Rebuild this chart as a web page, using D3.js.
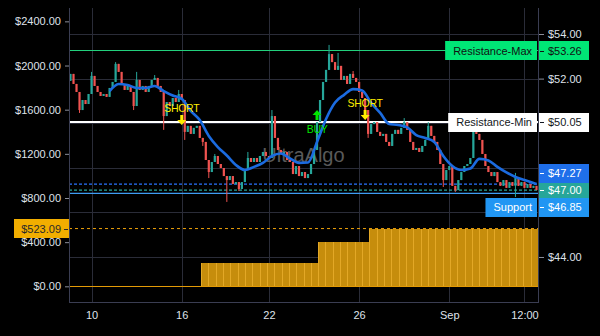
<!DOCTYPE html>
<html>
<head>
<meta charset="utf-8">
<script src="https://cdn.jsdelivr.net/npm/d3@7"></script>
<style>
  html, body { margin: 0; padding: 0; background: #000; }
  svg { display: block; font-family: "Liberation Sans", Arial, sans-serif; }
</style>
</head>
<body>
<svg id="chart" width="600" height="336"></svg>
<script>
// ---- price data (closing prices, one per bar) ----
const firstOpen = 51.90;
const closes = [
  52.21, 51.76, 51.40, 50.59, 51.04, 50.86, 51.31, 52.12, 51.67, 51.40,
  51.22, 51.31, 51.18, 51.58, 51.85, 52.66, 52.30, 51.76, 51.49, 51.67,
  51.40, 50.77, 51.94, 51.49, 51.67, 51.40, 51.67, 51.94, 52.03, 51.67,
  51.40, 50.32, 50.95, 50.77, 51.13, 50.95, 51.31, 51.04, 49.61, 49.88,
  49.52, 49.79, 49.88, 49.34, 49.16, 48.35, 47.81, 48.26, 48.53, 48.17,
  47.99, 47.63, 47.45, 47.63, 47.27, 47.36, 47.05, 47.36, 47.90, 48.44,
  48.26, 48.44, 48.26, 48.53, 48.71, 48.53, 48.44, 50.32, 49.34, 48.80,
  48.62, 48.71, 48.35, 48.26, 47.72, 48.08, 47.63, 47.81, 47.54, 47.72,
  48.17, 48.80, 50.05, 51.04, 51.85, 52.39, 53.10, 52.74, 52.39, 52.57,
  51.94, 52.12, 51.76, 52.21, 52.03, 51.85, 51.40, 51.13, 50.59, 49.52,
  49.96, 50.05, 49.61, 49.43, 49.52, 49.16, 48.98, 49.52, 49.70, 49.52,
  49.79, 50.05, 49.70, 49.16, 48.80, 48.89, 48.71, 48.98, 49.25, 49.88,
  49.43, 49.16, 48.80, 48.17, 47.45, 47.90, 48.08, 47.19, 47.00, 47.45,
  47.81, 48.08, 48.17, 48.44, 49.88, 49.52, 49.25, 48.62, 48.08, 47.81,
  47.63, 47.81, 47.36, 47.19, 47.45, 47.10, 47.36, 47.19, 47.54, 47.19,
  47.36, 47.10, 47.27, 47.10, 47.19, 47.00
];
// wick extremes for bars whose high / low reach past the body  [bar, price]
const wickHighs = [
  [7, 52.30], [15, 52.74], [22, 52.30], [28, 52.16], [36, 51.49], [48, 48.62],
  [59, 48.71], [67, 50.59], [86, 53.51], [89, 53.15], [94, 52.34], [111, 50.23],
  [119, 50.05], [134, 50.05], [148, 47.77]
];
const wickLows = [
  [3, 50.46], [21, 50.59], [31, 49.70], [38, 49.25], [44, 48.98], [46, 47.54],
  [52, 46.47], [56, 46.96], [99, 49.34], [124, 47.14], [128, 46.92], [148, 46.69]
];

// ---- moving average (bar index -> value) ----
const maIndex = d3.range(13, 155, 3).concat([155]);
const maValues = [
  51.44, 51.76, 51.71, 51.58, 51.58, 51.67, 51.44, 51.24, 51.09, 50.55,
  50.14, 49.43, 48.93, 48.55, 48.13, 47.90, 48.04, 48.22, 48.53, 48.64,
  48.42, 48.22, 48.24, 49.16, 50.19, 50.93, 51.27, 51.53, 51.47, 50.91,
  50.46, 49.96, 49.92, 49.81, 49.47, 49.34, 49.16, 48.53, 48.08, 47.90,
  47.97, 48.40, 48.33, 48.04, 47.79, 47.59, 47.45, 47.32, 47.27
];

// ---- cumulative result histogram (left scale): [bar count, value] runs ----
const equityRuns = [[18, 0], [16, 210], [7, 400], [23, 523.09]];

// ---- levels ----
const levelNames = ["Resistance-Max", "Resistance-Min", "Support"];
const levelPrices = [53.26, 50.05, 46.85];

// ---- trade signals ----
const signalTypes = ["SHORT", "BUY", "SHORT"];
const signalBars = [37, 82, 98];
const signalPrices = [49.92, 50.59, 50.14];

// ---- axis ticks ----
const priceTicks = [44, 46, 48, 50, 52, 54];
const equityTicks = [0, 400, 800, 1200, 1600, 2000, 2400];
const timeTickBars = [7, 37, 66, 96, 126, 151];
const timeTickLabels = ["10", "16", "22", "26", "Sep", "12:00"];

// ================= drawing =================
const W = 600, H = 336;
const plot = { left: 69, right: 538, top: 8, bottom: 302 };
const N = closes.length;
const FONT = '"Liberation Sans", Arial, sans-serif';

const svg = d3.select("#chart");
svg.append("rect").attr("width", W).attr("height", H).attr("fill", "#000");

const x = d3.scaleLinear().domain([-0.5, N - 0.5]).range([plot.left, plot.right]);
const y = d3.scaleLinear().domain([41.982, 55.166]).range([plot.bottom, plot.top]);
const yEq = d3.scaleLinear().domain([-142, 2521]).range([plot.bottom, plot.top]);

const money = v => "$" + d3.format(".2f")(v);

// grid
const grid = svg.append("g").attr("shape-rendering", "crispEdges");
grid.selectAll(".gx").data(timeTickBars).join("line")
  .attr("x1", d => Math.round(x(d)) + 0.5).attr("x2", d => Math.round(x(d)) + 0.5)
  .attr("y1", plot.top).attr("y2", plot.bottom)
  .attr("stroke", "#2a2c38");
grid.selectAll(".gy").data(priceTicks).join("line")
  .attr("x1", plot.left).attr("x2", plot.right)
  .attr("y1", d => Math.round(y(d)) + 0.5).attr("y2", d => Math.round(y(d)) + 0.5)
  .attr("stroke", "#2a2c38");

// watermark
svg.append("text")
  .attr("x", (plot.left + plot.right) / 2).attr("y", (plot.top + plot.bottom) / 2 + 7)
  .attr("text-anchor", "middle").attr("font-size", 20)
  .attr("fill", "#5a5a5a").text("UltraAlgo");

// cumulative histogram
const equity = [];
equityRuns.forEach(([n, v]) => { for (let k = 0; k < n; k++) equity.push(v); });
const xb = d3.scaleLinear().domain([0, equity.length]).range([plot.left, plot.right]);
const eqG = svg.append("g").attr("shape-rendering", "crispEdges");
eqG.append("line")
  .attr("x1", plot.left).attr("x2", plot.right)
  .attr("y1", Math.round(yEq(0)) + 0.5).attr("y2", Math.round(yEq(0)) + 0.5)
  .attr("stroke", "#e39a06");
const eqBars = equity.map((v, i) => ({ v, i })).filter(d => d.v > 0);
eqG.selectAll("rect").data(eqBars).join("rect")
  .attr("x", d => xb(d.i)).attr("width", xb(1) - xb(0))
  .attr("y", d => yEq(d.v)).attr("height", d => yEq(0) - yEq(d.v))
  .attr("fill", "#c68d0c");
eqG.selectAll(".stripe").data(eqBars).join("line")
  .attr("x1", d => Math.round(xb(d.i)) + 0.5).attr("x2", d => Math.round(xb(d.i)) + 0.5)
  .attr("y1", d => yEq(d.v)).attr("y2", yEq(0))
  .attr("stroke", "#e3a826").attr("stroke-width", 1);
const lastEq = equity[equity.length - 1];
svg.append("line")
  .attr("x1", plot.left).attr("x2", plot.right)
  .attr("y1", yEq(lastEq)).attr("y2", yEq(lastEq))
  .attr("stroke", "#f0a30a").attr("stroke-dasharray", "3,3");

// level lines
const lastClose = closes[N - 1];
const lastMa = maValues[maValues.length - 1];
const levelStyle = {
  "Resistance-Max": { line: "#22d07c", width: 1, box: "#00e676", text: "#111" },
  "Resistance-Min": { line: "#ffffff", width: 2, box: "#ffffff", text: "#131722" },
  "Support":        { line: "#3f9df2", width: 1.3, box: "#2196f3", text: "#fff" }
};
levelNames.forEach((name, i) => {
  const s = levelStyle[name];
  svg.append("line")
    .attr("x1", plot.left).attr("x2", plot.right)
    .attr("y1", y(levelPrices[i])).attr("y2", y(levelPrices[i]))
    .attr("stroke", s.line).attr("stroke-width", s.width);
});
svg.append("line")
  .attr("x1", plot.left).attr("x2", plot.right)
  .attr("y1", y(lastMa)).attr("y2", y(lastMa))
  .attr("stroke", "#2a73ff").attr("stroke-width", 1.2).attr("stroke-dasharray", "3,2");
svg.append("line")
  .attr("x1", plot.left).attr("x2", plot.right)
  .attr("y1", y(lastClose)).attr("y2", y(lastClose))
  .attr("stroke", "#26a69a").attr("stroke-width", 1.2).attr("stroke-dasharray", "3,2");

// candles
const highMap = new Map(wickHighs), lowMap = new Map(wickLows);
const bars = closes.map((c, i) => {
  const o = i === 0 ? firstOpen : closes[i - 1];
  const hi = Math.max(o, c, highMap.get(i) ?? -Infinity);
  const lo = Math.min(o, c, lowMap.get(i) ?? Infinity);
  return { i, o, c, hi, lo, up: c >= o };
});
const candleG = svg.append("g");
const bodyW = 2.2;
candleG.selectAll(".wick").data(bars).join("line")
  .attr("x1", d => x(d.i)).attr("x2", d => x(d.i))
  .attr("y1", d => y(d.hi)).attr("y2", d => y(d.lo))
  .attr("stroke", d => d.up ? "#26a69a" : "#ef5350").attr("stroke-width", 1);
candleG.selectAll(".body").data(bars).join("rect")
  .attr("x", d => x(d.i) - bodyW / 2).attr("width", bodyW)
  .attr("y", d => y(Math.max(d.o, d.c)))
  .attr("height", d => Math.max(1, Math.abs(y(d.o) - y(d.c))))
  .attr("fill", d => d.up ? "#26a69a" : "#ef5350");

// moving average
svg.append("path")
  .datum(maIndex.map((b, k) => [b, maValues[k]]))
  .attr("d", d3.line().x(d => x(d[0])).y(d => y(d[1])).curve(d3.curveMonotoneX))
  .attr("fill", "none").attr("stroke", "#1b6be0").attr("stroke-width", 2.6)
  .attr("stroke-linejoin", "round");

// signals
signalTypes.forEach((t, k) => {
  const cx = x(signalBars[k]), ty = y(signalPrices[k]);
  const isBuy = t === "BUY";
  const col = isBuy ? "#00e600" : "#ffee00";
  const dir = isBuy ? 1 : -1; // +1: arrow body below tip, -1: above tip
  const pts = [[0, 0], [-4.5, 5], [-1.5, 5], [-1.5, 10], [1.5, 10], [1.5, 5], [4.5, 5]]
    .map(([px, py]) => [cx + px, ty + dir * py]);
  svg.append("path").attr("d", "M" + pts.join("L") + "Z").attr("fill", col);
  svg.append("text")
    .attr("x", cx).attr("y", isBuy ? ty + 23 : ty - 13)
    .attr("text-anchor", "middle").attr("font-size", 10.5)
    .attr("letter-spacing", -0.3)
    .attr("fill", col).text(t);
});

// axes lines
const axG = svg.append("g").attr("shape-rendering", "crispEdges");
axG.append("line").attr("x1", plot.left + 0.5).attr("x2", plot.left + 0.5)
  .attr("y1", plot.top).attr("y2", plot.bottom + 0.5).attr("stroke", "#3a3d52");
axG.append("line").attr("x1", plot.right + 0.5).attr("x2", plot.right + 0.5)
  .attr("y1", plot.top).attr("y2", plot.bottom + 0.5).attr("stroke", "#3a3d52");
axG.append("line").attr("x1", plot.left).attr("x2", plot.right + 1)
  .attr("y1", plot.bottom + 0.5).attr("y2", plot.bottom + 0.5).attr("stroke", "#3a3d52");

const axisText = "#dfe2ea";

// right-side value tags, spread apart around the last price tag
const tags = [
  { price: levelPrices[0], name: levelNames[0], ...levelStyle[levelNames[0]] },
  { price: levelPrices[1], name: levelNames[1], ...levelStyle[levelNames[1]] },
  { price: lastMa, name: null, box: "#1f6fea", text: "#fff", order: 1 },
  { price: lastClose, name: null, box: "#26a69a", text: "#fff", fixed: true, order: 0 },
  { price: levelPrices[2], name: levelNames[2], ...levelStyle[levelNames[2]], order: 1 }
].map(t => ({ ...t, ty: y(t.price), order: t.order ?? 1 }));
const gap = 17;
const sorted = tags.slice().sort((a, b) => a.ty - b.ty);
const fi = sorted.findIndex(t => t.fixed);
for (let k = fi - 1; k >= 0; k--) sorted[k].ty = Math.min(sorted[k].ty, sorted[k + 1].ty - gap);
for (let k = fi + 1; k < sorted.length; k++) sorted[k].ty = Math.max(sorted[k].ty, sorted[k - 1].ty + gap);
const boxH = 19;
// price-scale labels that would sit under a tag are left out
const freeTicks = priceTicks.filter(p => tags.every(t => Math.abs(y(p) - t.ty) > boxH / 2 + 5));

// left axis
const leftAxis = d3.axisLeft(yEq).tickValues(equityTicks).tickFormat(money).tickSize(4).tickPadding(4);
svg.append("g").attr("transform", `translate(${plot.left},0)`).call(leftAxis)
  .call(g => g.select(".domain").remove())
  .call(g => g.selectAll("line").attr("stroke", "#8a8d99"))
  .call(g => g.selectAll("text").attr("fill", axisText).attr("font-size", 11).attr("font-family", FONT));
// right axis
const rightAxis = d3.axisRight(y).tickValues(freeTicks).tickFormat(money).tickSize(5).tickPadding(4);
svg.append("g").attr("transform", `translate(${plot.right + 1},0)`).call(rightAxis)
  .call(g => g.select(".domain").remove())
  .call(g => g.selectAll("line").attr("stroke", "#8a8d99"))
  .call(g => g.selectAll("text").attr("fill", axisText).attr("font-size", 11).attr("font-family", FONT));
// bottom axis
const bottomAxis = d3.axisBottom(x).tickValues(timeTickBars)
  .tickFormat((d, i) => timeTickLabels[i]).tickSize(0).tickPadding(9);
svg.append("g").attr("transform", `translate(0,${plot.bottom})`).call(bottomAxis)
  .call(g => g.select(".domain").remove())
  .call(g => g.selectAll("text").attr("fill", axisText).attr("font-size", 11).attr("font-family", FONT));

const tagG = svg.append("g");
tags.slice().sort((a, b) => a.order - b.order).forEach(t => {
  const g = tagG.append("g");
  const top = Math.round(t.ty - boxH / 2);
  g.append("rect").attr("x", plot.right + 1).attr("y", top).attr("width", 50).attr("height", boxH)
    .attr("fill", t.box);
  g.append("line").attr("x1", plot.right + 2).attr("x2", plot.right + 6)
    .attr("y1", Math.round(t.ty) + 0.5).attr("y2", Math.round(t.ty) + 0.5)
    .attr("stroke", t.text).attr("shape-rendering", "crispEdges");
  g.append("text").attr("x", plot.right + 10).attr("y", t.ty + 4)
    .attr("font-size", 11).attr("fill", t.text).text(money(t.price));
  if (t.name) {
    const label = g.append("text").attr("font-size", 11).attr("fill", t.text).text(t.name);
    const w = label.node().getComputedTextLength();
    const bx = plot.right - 1 - w - 13;
    g.insert("rect", "text:last-of-type").attr("x", bx).attr("y", top)
      .attr("width", w + 13).attr("height", boxH).attr("fill", t.box);
    label.attr("x", bx + 8).attr("y", t.ty + 4).raise();
  }
});

// left-side tag for the latest cumulative value
const eqTop = Math.round(yEq(lastEq) - boxH / 2);
svg.append("rect").attr("x", 14).attr("y", eqTop).attr("width", plot.left - 14).attr("height", boxH)
  .attr("fill", "#f2ae00");
svg.append("text").attr("x", plot.left - 8).attr("y", yEq(lastEq) + 4)
  .attr("text-anchor", "end").attr("font-size", 11).attr("fill", "#2a2a2a").text(money(lastEq));
svg.append("line").attr("x1", plot.left - 5).attr("x2", plot.left - 1)
  .attr("y1", Math.round(yEq(lastEq)) + 0.5).attr("y2", Math.round(yEq(lastEq)) + 0.5)
  .attr("stroke", "#2a2a2a").attr("shape-rendering", "crispEdges");
</script>
</body>
</html>
